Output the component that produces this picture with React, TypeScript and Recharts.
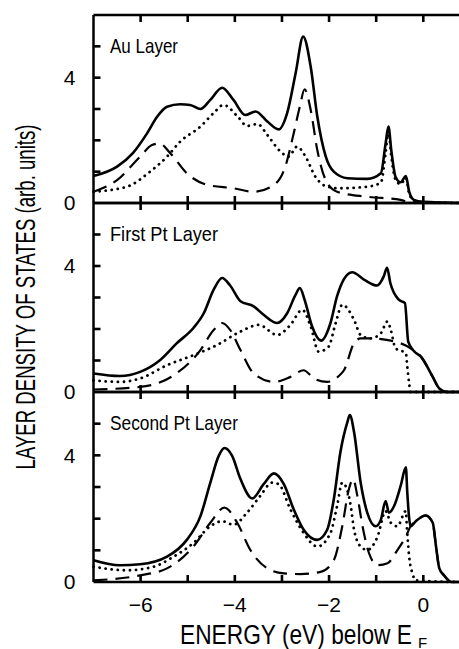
import React from 'react';
import { LineChart, Line, XAxis, YAxis, ReferenceLine } from 'recharts';

// [energy (eV), layer DOS]
const auTotal = [
  [-7, 0.86], [-6.5, 1.16], [-6.16, 1.6], [-5.86, 2.23], [-5.65, 2.75], [-5.44, 3.07], [-5.16, 3.15],
  [-4.95, 3.13], [-4.73, 3.0], [-4.52, 3.29], [-4.27, 3.68], [-4.03, 3.29], [-3.78, 2.81], [-3.56, 2.92],
  [-3.31, 2.6], [-3.07, 2.35], [-2.89, 2.87], [-2.71, 4.14], [-2.55, 5.31], [-2.39, 4.35], [-2.25, 2.76],
  [-2.07, 1.48], [-1.9, 1.0], [-1.61, 0.79], [-1.19, 0.77], [-0.9, 0.95], [-0.8, 1.9], [-0.74, 2.44],
  [-0.68, 1.69], [-0.59, 0.84], [-0.48, 0.66], [-0.37, 0.86], [-0.3, 0.36], [-0.2, 0.1], [0, 0.04], [0.8, 0],
];
const auDotted = [
  [-7, 0.36], [-6.29, 0.52], [-5.8, 1.0], [-5.44, 1.48], [-5.16, 1.96], [-4.73, 2.44], [-4.45, 2.87],
  [-4.24, 3.13], [-3.94, 2.76], [-3.74, 2.46], [-3.52, 2.52], [-3.31, 2.17], [-3.03, 1.64], [-2.86, 1.48],
  [-2.68, 1.8], [-2.5, 1.48], [-2.29, 0.84], [-2.04, 0.52], [-1.76, 0.47], [-1.19, 0.52], [-0.9, 0.65],
  [-0.8, 1.6], [-0.74, 2.3], [-0.68, 1.5], [-0.59, 0.75], [-0.48, 0.6], [-0.37, 0.8], [-0.3, 0.3],
  [-0.2, 0.08], [0, 0.02], [0.8, 0],
];
const auDashed = [
  [-7, 0.36], [-6.5, 0.73], [-6.01, 1.48], [-5.76, 1.85], [-5.6, 1.9], [-5.37, 1.59], [-5.02, 0.95],
  [-4.59, 0.58], [-4.03, 0.47], [-3.6, 0.36], [-3.17, 0.58], [-2.93, 1.16], [-2.75, 2.23], [-2.62, 3.08],
  [-2.52, 3.63], [-2.39, 2.97], [-2.25, 1.69], [-2.07, 0.73], [-1.83, 0.36], [-1.19, 0.2], [-0.48, 0.1],
  [-0.27, 0.02], [0.8, 0],
];

const pt1Total = [
  [-7, 0.59], [-6.44, 0.51], [-6.01, 0.64], [-5.59, 1.01], [-5.23, 1.55], [-4.88, 2.03], [-4.66, 2.5],
  [-4.45, 3.25], [-4.27, 3.62], [-4.1, 3.38], [-3.88, 2.88], [-3.6, 2.72], [-3.39, 2.45], [-3.1, 2.19],
  [-2.89, 2.5], [-2.71, 3.09], [-2.62, 3.3], [-2.52, 2.93], [-2.36, 2.08], [-2.17, 1.63], [-1.97, 2.19],
  [-1.83, 3.04], [-1.69, 3.57], [-1.51, 3.8], [-1.26, 3.57], [-0.98, 3.38], [-0.84, 3.67], [-0.77, 3.94],
  [-0.7, 3.46], [-0.52, 2.93], [-0.39, 2.82], [-0.32, 1.6], [-0.2, 1.3], [-0.05, 1.12], [0.2, 0.48],
  [0.34, 0.11], [0.5, 0], [0.8, 0],
];
const pt1Dotted = [
  [-7, 0.37], [-6.44, 0.32], [-6.01, 0.43], [-5.44, 0.85], [-4.88, 1.17], [-4.38, 1.49], [-3.88, 1.92],
  [-3.49, 2.13], [-3.1, 1.81], [-2.82, 2.13], [-2.57, 2.61], [-2.39, 2.08], [-2.22, 1.28], [-2.01, 1.44],
  [-1.86, 2.19], [-1.72, 2.77], [-1.47, 2.29], [-1.33, 1.81], [-1.12, 1.7], [-0.9, 1.87], [-0.76, 2.24],
  [-0.69, 1.97], [-0.59, 1.39], [-0.37, 1.23], [-0.34, 0.8], [-0.3, 0.27], [-0.27, 0], [0.8, 0],
];
const pt1Dashed = [
  [-7, 0.08], [-6.01, 0.16], [-5.3, 0.53], [-4.73, 1.33], [-4.45, 1.97], [-4.27, 2.19], [-4.1, 1.97],
  [-3.88, 1.33], [-3.6, 0.59], [-3.17, 0.32], [-2.82, 0.48], [-2.54, 0.69], [-2.32, 0.43], [-2.04, 0.32],
  [-1.8, 0.5], [-1.68, 0.7], [-1.47, 1.55], [-1.33, 1.7], [-1.12, 1.7], [-0.69, 1.63], [-0.27, 1.39],
  [-0.05, 1.12], [0.2, 0.48], [0.34, 0.11], [0.5, 0], [0.8, 0],
];

const pt2Total = [
  [-7, 0.69], [-6.44, 0.53], [-6.01, 0.56], [-5.44, 0.8], [-5.02, 1.33], [-4.73, 2.08], [-4.52, 3.14],
  [-4.34, 3.99], [-4.22, 4.23], [-4.06, 3.99], [-3.88, 3.25], [-3.63, 2.64], [-3.39, 3.09], [-3.17, 3.43],
  [-2.96, 3.09], [-2.75, 2.29], [-2.54, 1.65], [-2.25, 1.33], [-2.04, 1.65], [-1.9, 2.61], [-1.76, 4.1],
  [-1.61, 5.06], [-1.56, 5.27], [-1.47, 4.74], [-1.33, 3.14], [-1.19, 2.19], [-1.01, 1.76], [-0.9, 1.97],
  [-0.8, 2.56], [-0.73, 2.19], [-0.62, 2.4], [-0.48, 3.04], [-0.37, 3.62], [-0.34, 2.82], [-0.27, 1.76],
  [-0.16, 1.92], [0.05, 2.1], [0.2, 1.87], [0.27, 1.12], [0.34, 0.43], [0.44, 0.21], [0.6, 0], [0.8, 0],
];
const pt2Dotted = [
  [-7, 0.48], [-6.29, 0.37], [-5.73, 0.48], [-5.3, 0.8], [-4.88, 1.23], [-4.52, 1.76], [-4.27, 1.92],
  [-4.03, 1.81], [-3.74, 2.19], [-3.46, 2.72], [-3.21, 3.14], [-3.07, 3.09], [-2.82, 2.29], [-2.54, 1.55],
  [-2.25, 1.12], [-1.97, 1.55], [-1.83, 2.4], [-1.72, 3.14], [-1.61, 2.88], [-1.54, 2.4], [-1.47, 1.65],
  [-1.33, 1.12], [-1.19, 1.01], [-0.97, 1.44], [-0.8, 2.24], [-0.69, 1.87], [-0.55, 1.76], [-0.37, 2.24],
  [-0.35, 1.76], [-0.3, 0.8], [-0.23, 0.27], [-0.16, 0.05], [0.8, 0],
];
const pt2Dashed = [
  [-7, 0.05], [-6.01, 0.21], [-5.44, 0.43], [-4.88, 1.12], [-4.52, 1.87], [-4.22, 2.35], [-3.95, 1.87],
  [-3.67, 1.01], [-3.31, 0.43], [-2.96, 0.27], [-2.61, 0.25], [-2.18, 0.32], [-1.9, 0.69], [-1.72, 1.76],
  [-1.58, 2.93], [-1.49, 3.25], [-1.4, 2.72], [-1.29, 1.76], [-1.15, 0.9], [-0.97, 0.53], [-0.76, 0.59],
  [-0.55, 1.01], [-0.37, 1.44], [-0.27, 1.76], [-0.16, 1.92], [0.05, 2.1], [0.2, 1.87], [0.27, 1.12],
  [0.34, 0.43], [0.44, 0.21], [0.6, 0], [0.8, 0],
];

const panelNames = ['Au Layer', 'First Pt Layer', 'Second Pt Layer'];
const panelNameWidths = [68, 108, 128];
const panelSeries = [
  [auTotal, auDotted, auDashed],
  [pt1Total, pt1Dotted, pt1Dashed],
  [pt2Total, pt2Dotted, pt2Dashed],
];
const xTicks = [-7, -6, -5, -4, -3, -2, -1, 0];
const xLabelTicks = [-6, -4, -2, 0];
const yTicks = [0, 1, 2, 3, 4, 5, 6];
const yLabelTicks = [0, 4];

const FONT = '"Liberation Sans Narrow", "Liberation Sans", Arial, sans-serif';
const X_MIN = -7;
const X_MAX = 0.8;
const Y_MAX = 6;
const panelTops = [15, 203, 392];
const panelBottoms = [203, 392, 582];
const PAD = 24;
const X_AXIS_H = 30;
const LEFT = 93.5;
const CHART_W = 461;
const INK = '#000';
const AX = { stroke: INK, strokeWidth: 2.5 };
const TICK_PX = 7;
const tickFont = { fontSize: 21, fill: INK, fontFamily: FONT };

const toPoints = (arr: number[][]) => arr.map(([e, v]) => ({ e, v }));
const fmtX = (v: number) => (xLabelTicks.includes(v) ? (v < 0 ? '\u2212' + Math.abs(v) : String(v)) : '');
const fmtY = (v: number) => (yLabelTicks.includes(v) ? String(v) : '');

// same linear mapping as the chart's plot area, used for the inward tick marks
const xPx = (e: number) => LEFT + ((e - X_MIN) / (X_MAX - X_MIN)) * (CHART_W - LEFT);
const yPx = (i: number, v: number) => panelBottoms[i] - (v / Y_MAX) * (panelBottoms[i] - panelTops[i]);

const Panel: React.FC<{ index: number }> = ({ index }) => {
  const [total, dotted, dashed] = panelSeries[index];
  const isLast = index === 2;
  const plotH = panelBottoms[index] - panelTops[index];
  const below = isLast ? 649 - panelBottoms[index] : X_AXIS_H;
  return (
    <div style={{ position: 'absolute', left: 0, top: panelTops[index] - PAD }}>
      <LineChart
        width={CHART_W}
        height={PAD + plotH + below}
        margin={{ top: PAD, right: 0, bottom: below - X_AXIS_H, left: 0 }}
      >
        <XAxis
          type="number"
          dataKey="e"
          domain={[X_MIN, X_MAX]}
          ticks={xTicks}
          interval={0}
          height={X_AXIS_H}
          tickSize={0}
          tickMargin={15}
          tickLine={false}
          axisLine={AX}
          tick={isLast ? tickFont : false}
          tickFormatter={fmtX}
        />
        <YAxis
          type="number"
          domain={[0, Y_MAX]}
          ticks={yTicks}
          interval={0}
          width={LEFT}
          tickSize={0}
          tickMargin={18}
          tickLine={false}
          axisLine={AX}
          tick={tickFont}
          tickFormatter={fmtY}
        />
        <ReferenceLine y={Y_MAX} stroke={INK} strokeWidth={2.5} />
        <Line
          data={toPoints(dashed)}
          dataKey="v"
          type="monotone"
          stroke={INK}
          strokeWidth={2.2}
          strokeDasharray="14 8"
          dot={false}
          isAnimationActive={false}
        />
        <Line
          data={toPoints(dotted)}
          dataKey="v"
          type="monotone"
          stroke={INK}
          strokeWidth={2.8}
          strokeDasharray="0.1 6"
          strokeLinecap="round"
          dot={false}
          isAnimationActive={false}
        />
        <Line
          data={toPoints(total)}
          dataKey="v"
          type="monotone"
          stroke={INK}
          strokeWidth={2.6}
          dot={false}
          isAnimationActive={false}
        />
      </LineChart>
    </div>
  );
};

export default function App() {
  return (
    <div
      style={{
        position: 'fixed',
        left: 0,
        top: 0,
        width: 459,
        height: 649,
        overflow: 'hidden',
        background: '#fff',
      }}
    >
      {[0, 1, 2].map((i) => (
        <Panel key={i} index={i} />
      ))}
      <svg width={459} height={649} style={{ position: 'absolute', left: 0, top: 0, pointerEvents: 'none' }}>
        {/* inward tick marks on every panel border */}
        {[0, 1, 2].map((i) => (
          <g key={'ticks' + i} stroke={INK} strokeWidth={2.6}>
            {xTicks.slice(1).map((t) => (
              <g key={t}>
                <line x1={xPx(t)} x2={xPx(t)} y1={panelTops[i]} y2={panelTops[i] + TICK_PX} />
                <line x1={xPx(t)} x2={xPx(t)} y1={panelBottoms[i]} y2={panelBottoms[i] - TICK_PX} />
              </g>
            ))}
            {yTicks.slice(1, -1).map((t) => (
              <line key={'y' + t} x1={LEFT} x2={LEFT + TICK_PX} y1={yPx(i, t)} y2={yPx(i, t)} />
            ))}
          </g>
        ))}
        {panelNames.map((name, i) => (
          <text
            key={name}
            x={110}
            y={panelTops[i] + 38}
            fontSize={21}
            fontFamily={FONT}
            fill={INK}
            textLength={panelNameWidths[i]}
            lengthAdjust="spacingAndGlyphs"
          >
            {name}
          </text>
        ))}
        <text
          transform="translate(35, 297) rotate(-90)"
          textAnchor="middle"
          fontSize={27}
          fontFamily={FONT}
          fill={INK}
          textLength={345}
          lengthAdjust="spacingAndGlyphs"
        >
          LAYER DENSITY OF STATES (arb. units)
        </text>
        <text
          x={180}
          y={644}
          fontSize={27}
          fontFamily={FONT}
          fill={INK}
          textLength={232}
          lengthAdjust="spacingAndGlyphs"
        >
          ENERGY (eV) below E
        </text>
        <text x={418} y={648} fontSize={15} fontFamily={FONT} fill={INK}>
          F
        </text>
      </svg>
    </div>
  );
}
